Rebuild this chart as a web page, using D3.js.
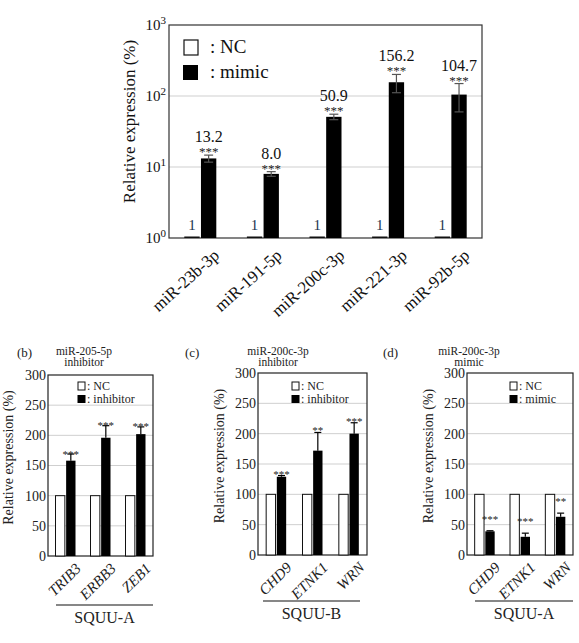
<!DOCTYPE html>
<html>
<head>
<meta charset="utf-8" />
</head>
<body style="margin:0">
<script src="https://d3js.org/d3.v7.min.js"></script>
<script>
// top chart (a) - log scale
var topCats = ["miR-23b-3p", "miR-191-5p", "miR-200c-3p", "miR-221-3p", "miR-92b-5p"];
var topNC = [1, 1, 1, 1, 1];
var topMimic = [13.2, 8.0, 50.9, 156.2, 104.7];
var topErr = [1.5, 0.6, 4.5, 45, 45];
var topStars = ["***", "***", "***", "***", "***"];
var topTicks = [0, 1, 2, 3];

// bottom panels
var genesB = ["TRIB3", "ERBB3", "ZEB1"];
var ncB = [100, 100, 100];
var valB = [158, 196, 202];
var errB = [11, 20, 12];
var starsB = ["***", "***", "***"];

var genesC = ["CHD9", "ETNK1", "WRN"];
var ncC = [100, 100, 100];
var valC = [129, 172, 200];
var errC = [2, 30, 18];
var starsC = ["***", "**", "***"];

var genesD = ["CHD9", "ETNK1", "WRN"];
var ncD = [100, 100, 100];
var valD = [39, 30, 63];
var errD = [1, 6, 6];
var starsD = ["***", "***", "**"];

var linTicks = [0, 50, 100, 150, 200, 250, 300];

var width = 579, height = 643;
var svg = d3.select("body").append("svg")
    .attr("width", width)
    .attr("height", height)
    .attr("font-family", "Liberation Serif");

function txt(sel) {
  return sel.append("text")
    .attr("font-family", "Liberation Serif")
    .style("font-family", "'Liberation Serif', 'Times New Roman', Tinos");
}

// ---------- top chart ----------
var tp = {left: 169, right: 482, top: 25, bottom: 238};
var x0 = d3.scaleBand().domain(topCats).range([tp.left, tp.right]);
var y0 = d3.scaleLog().domain([1, 1000]).range([tp.bottom, tp.top]);
var xin = d3.scaleBand().domain(["nc", "m"]).range([-16, 16]).paddingInner(0.08);

var tg = svg.append("g");

tg.append("g")
  .selectAll("line").data([10, 100]).enter().append("line")
  .attr("x1", tp.left).attr("x2", tp.right)
  .attr("y1", function(d) { return y0(d); })
  .attr("y2", function(d) { return y0(d); })
  .attr("stroke", "#cfcfcf");

tg.append("rect")
  .attr("x", tp.left).attr("y", tp.top)
  .attr("width", tp.right - tp.left).attr("height", tp.bottom - tp.top)
  .attr("fill", "none").attr("stroke", "#333").attr("stroke-width", 1.2);

topCats.forEach(function(c, i) {
  var cx = x0(c) + x0.bandwidth() / 2;
  // NC bar (value 1 -> flat on baseline)
  var hNC = Math.max(tp.bottom - y0(topNC[i]), 1.5);
  tg.append("rect")
    .attr("x", cx + xin("nc")).attr("y", tp.bottom - hNC)
    .attr("width", xin.bandwidth()).attr("height", hNC)
    .attr("fill", "#111");
  txt(tg)
    .attr("x", cx + xin("nc") + xin.bandwidth() / 2).attr("y", tp.bottom - 8)
    .attr("text-anchor", "middle").attr("font-size", 15).attr("fill", "#1d3550")
    .text(topNC[i]);
  // mimic bar
  tg.append("rect")
    .attr("x", cx + xin("m")).attr("y", y0(topMimic[i]))
    .attr("width", xin.bandwidth()).attr("height", tp.bottom - y0(topMimic[i]))
    .attr("fill", "#000");
  var mx = cx + xin("m") + xin.bandwidth() / 2;
  var eT = y0(topMimic[i] + topErr[i]), eB = y0(topMimic[i] - topErr[i]);
  var eg = tg.append("g").attr("stroke", "#555").attr("stroke-width", 1.2);
  eg.append("line").attr("x1", mx).attr("x2", mx).attr("y1", eT).attr("y2", eB);
  eg.append("line").attr("x1", mx - 4.5).attr("x2", mx + 4.5).attr("y1", eT).attr("y2", eT);
  eg.append("line").attr("x1", mx - 4.5).attr("x2", mx + 4.5).attr("y1", eB).attr("y2", eB);
  txt(tg)
    .attr("x", mx).attr("y", eT + 1)
    .attr("text-anchor", "middle").attr("font-size", 13).attr("fill", "#222")
    .text(topStars[i]);
  txt(tg)
    .attr("x", mx).attr("y", eT - 13)
    .attr("text-anchor", "middle").attr("font-size", 16).attr("fill", "#111")
    .text(topMimic[i].toFixed(1));
  // x label
  txt(tg)
    .attr("transform", "translate(" + (cx + 12) + "," + (tp.bottom + 10) + ") rotate(-42)")
    .attr("text-anchor", "end").attr("dy", "0.7em").attr("font-size", 17).attr("fill", "#111")
    .text(c);
});

// y tick labels 10^n
topTicks.forEach(function(p) {
  var t = txt(tg)
    .attr("x", tp.left - 3).attr("y", y0(Math.pow(10, p)) + 5)
    .attr("text-anchor", "end").attr("font-size", 15).attr("fill", "#111");
  t.append("tspan").text("10");
  t.append("tspan").attr("font-size", 11).attr("dy", -6).text(p);
});

txt(tg)
  .attr("transform", "translate(135," + ((tp.top + tp.bottom) / 2 - 10) + ") rotate(-90)")
  .attr("text-anchor", "middle").attr("font-size", 17).attr("fill", "#111")
  .text("Relative expression (%)");

// legend
tg.append("rect").attr("x", 184).attr("y", 40).attr("width", 14).attr("height", 15)
  .attr("fill", "#fff").attr("stroke", "#111").attr("stroke-width", 1.2);
txt(tg).attr("x", 210).attr("y", 53).attr("font-size", 19).attr("fill", "#111").text(": NC");
tg.append("rect").attr("x", 183).attr("y", 65).attr("width", 15).attr("height", 15).attr("fill", "#000");
txt(tg).attr("x", 210).attr("y", 78).attr("font-size", 19).attr("fill", "#111").text(": mimic");

// ---------- bottom panels ----------
var panels = [
  {tag: "(b)", title: ["miR-205-5p", "inhibitor"], genes: genesB, nc: ncB, val: valB, err: errB, stars: starsB,
   treat: ": inhibitor", cell: "SQUU-A"},
  {tag: "(c)", title: ["miR-200c-3p", "inhibitor"], genes: genesC, nc: ncC, val: valC, err: errC, stars: starsC,
   treat: ": inhibitor", cell: "SQUU-B"},
  {tag: "(d)", title: ["miR-200c-3p", "mimic"], genes: genesD, nc: ncD, val: valD, err: errD, stars: starsD,
   treat: ": mimic", cell: "SQUU-A"}
];
// layout for each panel (pixels)
var lay = [
  {left: 48, right: 153, top: 375, bottom: 556, tagX: 17, titleX: 84, ylabX: 13, legX: 78, starOff: 0.5,
   lineY: 605, lineX: [56, 153], cellY: 623},
  {left: 258, right: 367, top: 373, bottom: 555, tagX: 185, titleX: 278, ylabX: 224, legX: 292, starOff: -1,
   lineY: 601, lineX: [263, 360], cellY: 619},
  {left: 467, right: 573, top: 373, bottom: 555, tagX: 383, titleX: 469, ylabX: 433, legX: 510, starOff: -11,
   lineY: 601, lineX: [475, 573], cellY: 619}
];

panels.forEach(function(p, k) {
  var L = lay[k];
  var g = svg.append("g");
  var x = d3.scaleBand().domain(p.genes).range([L.left, L.right]);
  var y = d3.scaleLinear().domain([0, 300]).range([L.bottom, L.top]);
  var xi = d3.scaleBand().domain(["nc", "t"]).range([-10, 10]).paddingInner(0.12);

  g.append("g")
    .selectAll("line").data(linTicks.slice(1, 6)).enter().append("line")
    .attr("x1", L.left).attr("x2", L.right)
    .attr("y1", function(d) { return y(d); })
    .attr("y2", function(d) { return y(d); })
    .attr("stroke", "#cfcfcf");

  g.append("rect")
    .attr("x", L.left).attr("y", L.top)
    .attr("width", L.right - L.left).attr("height", L.bottom - L.top)
    .attr("fill", "none").attr("stroke", "#222").attr("stroke-width", 1.2);

  var ax = g.append("g").attr("transform", "translate(" + L.left + ",0)")
    .call(d3.axisLeft(y).tickValues(linTicks).tickSize(0).tickPadding(2));
  ax.attr("font-family", "Liberation Serif");
  ax.select(".domain").remove();
  ax.selectAll("text").style("font-family", "'Liberation Serif', 'Times New Roman', Tinos")
    .attr("font-size", 14).attr("fill", "#222");

  p.genes.forEach(function(gn, i) {
    var cx = x(gn) + x.bandwidth() / 2;
    g.append("rect")
      .attr("x", cx + xi("nc")).attr("y", y(p.nc[i]))
      .attr("width", xi.bandwidth()).attr("height", L.bottom - y(p.nc[i]))
      .attr("fill", "#fff").attr("stroke", "#111").attr("stroke-width", 1);
    g.append("rect")
      .attr("x", cx + xi("t")).attr("y", y(p.val[i]))
      .attr("width", xi.bandwidth()).attr("height", L.bottom - y(p.val[i]))
      .attr("fill", "#000");
    var mx = cx + xi("t") + xi.bandwidth() / 2;
    var eT = y(p.val[i] + p.err[i]);
    g.append("line").attr("x1", mx).attr("x2", mx).attr("y1", y(p.val[i])).attr("y2", eT)
      .attr("stroke", "#000").attr("stroke-width", 1.2);
    g.append("line").attr("x1", mx - 3.5).attr("x2", mx + 3.5).attr("y1", eT).attr("y2", eT)
      .attr("stroke", "#000").attr("stroke-width", 1.2);
    txt(g)
      .attr("x", mx).attr("y", eT + L.starOff + 3)
      .attr("text-anchor", "middle").attr("font-size", 11).attr("fill", "#222")
      .text(p.stars[i]);
    txt(g)
      .attr("transform", "translate(" + (cx + 9) + "," + (L.bottom + 6) + ") rotate(-45)")
      .attr("text-anchor", "end").attr("dy", "0.7em")
      .attr("font-size", 15).attr("font-style", "italic").attr("fill", "#222")
      .text(gn);
  });

  txt(g)
    .attr("transform", "translate(" + L.ylabX + "," + ((L.top + L.bottom) / 2 - 8) + ") rotate(-90)")
    .attr("text-anchor", "middle").attr("font-size", 14).attr("fill", "#222")
    .text("Relative expression (%)");

  // legend
  g.append("rect").attr("x", L.legX).attr("y", 382).attr("width", 7).attr("height", 8)
    .attr("fill", "#fff").attr("stroke", "#111").attr("stroke-width", 1);
  txt(g).attr("x", L.legX + 9).attr("y", 390).attr("font-size", 12).attr("fill", "#222").text(": NC");
  g.append("rect").attr("x", L.legX - 0.5).attr("y", 395).attr("width", 8).attr("height", 8).attr("fill", "#000");
  txt(g).attr("x", L.legX + 9).attr("y", 403).attr("font-size", 12).attr("fill", "#222").text(p.treat);

  // titles
  txt(g).attr("x", L.tagX).attr("y", 357).attr("font-size", 13).attr("fill", "#222").text(p.tag);
  txt(g).attr("x", L.titleX).attr("y", 355).attr("text-anchor", "middle")
    .attr("font-size", 11.5).attr("fill", "#222").text(p.title[0]);
  txt(g).attr("x", L.titleX).attr("y", 366).attr("text-anchor", "middle")
    .attr("font-size", 11.5).attr("fill", "#222").text(p.title[1]);

  // cell line underline
  g.append("line").attr("x1", L.lineX[0]).attr("x2", L.lineX[1])
    .attr("y1", L.lineY).attr("y2", L.lineY).attr("stroke", "#111").attr("stroke-width", 1.2);
  txt(g).attr("x", (L.lineX[0] + L.lineX[1]) / 2).attr("y", L.cellY)
    .attr("text-anchor", "middle").attr("font-size", 16).attr("fill", "#222").text(p.cell);
});
</script>
</body>
</html>
